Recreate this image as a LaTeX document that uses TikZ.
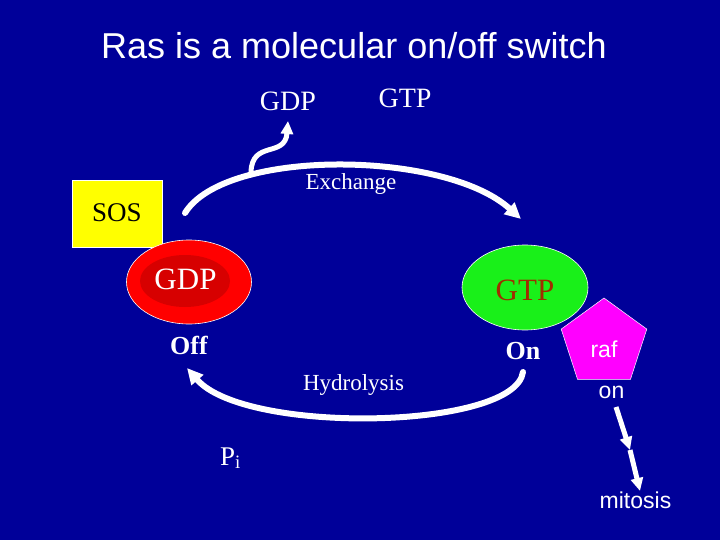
\documentclass[tikz,border=0pt]{standalone}
\usepackage{fontspec}
\setmainfont{Liberation Serif}
\newfontfamily\arial{Liberation Sans}
\usetikzlibrary{arrows.meta,shapes.geometric}
\definecolor{bg}{HTML}{000099}
\definecolor{darkred}{RGB}{215,0,0}
\definecolor{brightgreen}{RGB}{25,240,25}
\definecolor{gtpbrown}{RGB}{160,45,0}
\definecolor{rafmag}{RGB}{255,0,255}
\definecolor{sosyellow}{RGB}{255,255,0}
\newcommand{\fs}[1]{\fontsize{#1}{#1}\selectfont}
\tikzset{
  lbl/.style={text=white, inner sep=0pt, anchor=base},
  arcline/.style={draw=white, line width=6pt, line cap=round},
  bigtip/.style={-{Triangle[length=16pt,width=15pt]}},
  smalltip/.style={-{Triangle[length=13pt,width=12pt]}},
}
\begin{document}
\begin{tikzpicture}[x=1pt,y=-1pt]
\fill[bg] (0,0) rectangle (720,540);
\useasboundingbox (0,0) rectangle (720,540);

% title
\node[lbl, font=\arial\fs{36}] (title) at (354,59) {Ras is a molecular on/off switch};

% top labels
\node[lbl, font=\fs{28}] (gdptop) at (288,111) {GDP};
\node[lbl, font=\fs{28}] (gtptop) at (405,108) {GTP};

% SOS box
\node[draw=white, line width=0.5pt, fill=sosyellow, minimum width=90, minimum height=67, inner sep=0pt] (sos) at (117,213.5) {};
\node[lbl, text=black, font=\fs{27}] (sostext) at (117,222) {SOS};

% Off ellipse
\node[ellipse, draw=white, line width=0.6pt, fill=red, minimum width=125, minimum height=84, inner sep=0pt] (off) at (189,282) {};
\node[ellipse, fill=darkred, minimum width=90, minimum height=52, inner sep=0pt] (offin) at (185,281) {};
\node[lbl, font=\fs{31}] (gdpoff) at (185.5,289) {GDP};
\node[lbl, font=\bfseries\fs{26}] (offlbl) at (189,354) {Off};

% On ellipse
\node[ellipse, draw=white, line width=0.6pt, fill=brightgreen, minimum width=126, minimum height=85, inner sep=0pt] (on) at (525,287.5) {};
\node[lbl, text=gtpbrown, font=\fs{31}] (gtpon) at (525,300) {GTP};
\node[lbl, font=\bfseries\fs{26}] (onlbl) at (523,359) {On};

% raf pentagon
\node[regular polygon, regular polygon sides=5, draw=white, line width=0.5pt, fill=rafmag, minimum size=90, inner sep=0pt] (raf) at (604,343) {};
\node[lbl, font=\arial\fs{23}] (raftext) at (604,357) {raf};
\node[lbl, font=\arial\fs{23}] (rafon) at (611.5,398) {on};
\node[lbl, font=\arial\fs{23}] (mitosis) at (635.5,508) {mitosis};

% Exchange / Hydrolysis labels
\node[lbl, font=\fs{23}] (exch) at (351,190) {Exchange};
\node[lbl, font=\fs{23}] (hydro) at (353.5,390) {Hydrolysis};
\node[lbl, font=\fs{27}, anchor=base west] (pi) at (220,465) {P\textsubscript{i}};

% coordinates
\coordinate (exA) at (185,213);
\coordinate (exB) at (521,219);
\coordinate (brA) at (251,172);
\coordinate (brB) at (288,121);
\coordinate (hyA) at (523,372);
\coordinate (hyB) at (187,368);
\coordinate (m1) at (616,407);
\coordinate (m2) at (630,450);
\coordinate (m3) at (640,491);

% arcs
\draw[arcline, bigtip] (exA) .. controls (225,148) and (445,150) .. (exB);
\draw[draw=white, line width=5pt, line cap=round, smalltip] (brA) .. controls (252,140) and (285,158) .. (brB);
\draw[arcline, bigtip] (hyA) .. controls (515,430) and (245,435) .. (hyB);

% raf arrows
\draw[draw=white, line width=5pt, smalltip] (m1) -- (m2);
\draw[draw=white, line width=5pt, smalltip] (m2) -- (m3);
\end{tikzpicture}
\end{document}
